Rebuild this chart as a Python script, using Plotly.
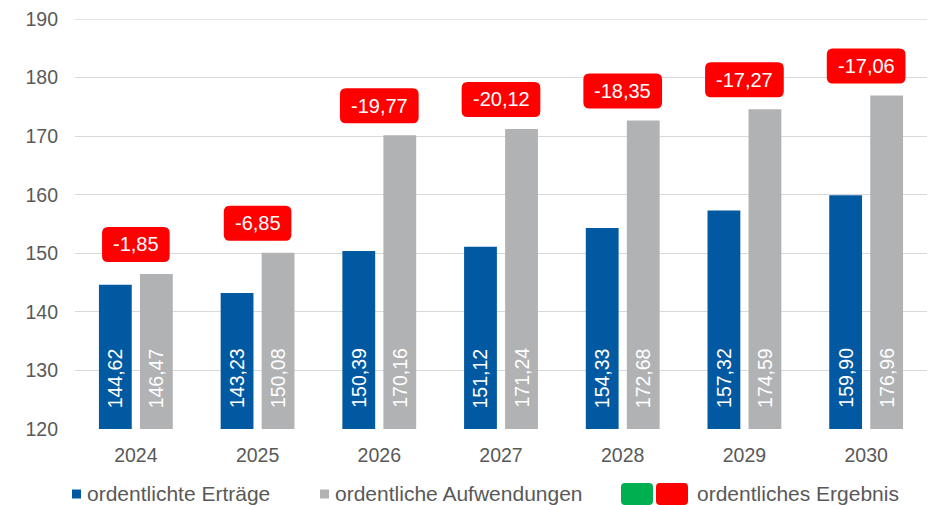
import plotly.graph_objects as go

years = ['2024', '2025', '2026', '2027', '2028', '2029', '2030']
ertraege = [144.62, 143.23, 150.39, 151.12, 154.33, 157.32, 159.90]
aufwendungen = [146.47, 150.08, 170.16, 171.24, 172.68, 174.59, 176.96]
ergebnis = [-1.85, -6.85, -19.77, -20.12, -18.35, -17.27, -17.06]

BLUE = '#0059A1'
GREY = '#B1B2B4'
RED = '#FF0000'
GREEN = '#00B050'
TEXT = '#595959'
FONT = 'Liberation Sans, Arial, sans-serif'

# the page puts the figure 8px in from the top-left corner
OFF = 8
W, H = 935 - OFF, 505 - OFF
M_L, M_R, M_T, M_B = 75 - OFF, 8, 19 - OFF, 76
BARGAP = 0.326
plot_w = W - M_L - M_R
plot_h = H - M_T - M_B
slot = (1 - BARGAP) * plot_w / len(years) / 2
pos = list(range(len(years)))


def de(v):
    return f'{v:.2f}'.replace('.', ',')


# rough Arial advance widths (em) for the box sizing
CHAR_W = {'-': 0.333, ',': 0.278}


def text_width(s, size):
    return sum(CHAR_W.get(c, 0.556) for c in s) * size


def rounded(x0, y0, x1, y1, r):
    return (f'M {x0 + r},{y0} L {x1 - r},{y0} Q {x1},{y0} {x1},{y0 + r} '
            f'L {x1},{y1 - r} Q {x1},{y1} {x1 - r},{y1} L {x0 + r},{y1} '
            f'Q {x0},{y1} {x0},{y1 - r} L {x0},{y0 + r} Q {x0},{y0} {x0 + r},{y0} Z')


fig = go.Figure()
fig.add_trace(go.Bar(x=pos, y=ertraege, name='ordentlichte Erträge',
                     marker=dict(color=BLUE, line=dict(width=0)), showlegend=False))
fig.add_trace(go.Bar(x=pos, y=aufwendungen, name='ordentliche Aufwendungen',
                     marker=dict(color=GREY, line=dict(width=0)), showlegend=False))

shapes = []
annotations = []

# top gridline (plotly drops the one sitting on the plot edge)
shapes.append(dict(type='line', xref='paper', yref='y', x0=0, x1=1, y0=190, y1=190,
                   line=dict(color='#D9D9D9', width=1.3), layer='below'))

# values inside the bars, rotated
for i in pos:
    for vals, sh in ((ertraege, -slot / 2), (aufwendungen, slot / 2)):
        annotations.append(dict(
            x=i, y=120, xref='x', yref='y', text=de(vals[i]), showarrow=False,
            textangle=-90, yanchor='bottom', xanchor='center', yshift=19, xshift=sh,
            font=dict(family=FONT, size=19.5, color='white')))

# red result boxes above the bars
BOX_FS = 20
for i in pos:
    top = max(ertraege[i], aufwendungen[i])
    label = de(ergebnis[i])
    half = text_width(label, BOX_FS) / 2 + 11
    shapes.append(dict(
        type='path', xref='x', yref='y', xsizemode='pixel', ysizemode='pixel',
        xanchor=i, yanchor=top, path=rounded(-half, 12, half, 47, 6),
        fillcolor=GREEN if ergebnis[i] >= 0 else RED, line=dict(width=0), layer='above'))
    annotations.append(dict(
        x=i, y=top, xref='x', yref='y', text=label, showarrow=False,
        yanchor='middle', xanchor='center', yshift=29.5,
        font=dict(family=FONT, size=BOX_FS, color='white')))


# custom legend along the bottom (screen pixels)
def px_x(p):
    return (p - OFF - M_L) / plot_w


def px_y(p):
    return (H - M_B - (p - OFF)) / plot_h


LEG_Y = 494
LEG_FS = 21
for x_sq, color, x_txt, label in ((72, BLUE, 85, 'ordentlichte Erträge'),
                                  (320, GREY, 333, 'ordentliche Aufwendungen')):
    shapes.append(dict(type='rect', xref='paper', yref='paper', xsizemode='pixel',
                       ysizemode='pixel', xanchor=px_x(x_sq), yanchor=px_y(LEG_Y),
                       x0=0, x1=9, y0=-4.5, y1=4.5, fillcolor=color, line=dict(width=0)))
    annotations.append(dict(x=px_x(x_txt), y=px_y(LEG_Y), xref='paper', yref='paper',
                            text=label, showarrow=False, xanchor='left', yanchor='middle',
                            font=dict(family=FONT, size=LEG_FS, color=TEXT)))

for x0, color in ((621, GREEN), (656, RED)):
    shapes.append(dict(type='path', xref='paper', yref='paper', xsizemode='pixel',
                       ysizemode='pixel', xanchor=px_x(x0), yanchor=px_y(LEG_Y),
                       path=rounded(0, -11, 32, 11, 4), fillcolor=color, line=dict(width=0)))
annotations.append(dict(x=px_x(695), y=px_y(LEG_Y), xref='paper', yref='paper',
                        text='ordentliches Ergebnis', showarrow=False, xanchor='left',
                        yanchor='middle', font=dict(family=FONT, size=LEG_FS, color=TEXT)))

fig.update_layout(
    width=W, height=H,
    margin=dict(l=M_L, r=M_R, t=M_T, b=M_B),
    paper_bgcolor='white', plot_bgcolor='white',
    barmode='group', bargap=BARGAP, bargroupgap=0.2,
    showlegend=False,
    font=dict(family=FONT, color=TEXT),
    shapes=shapes, annotations=annotations,
    xaxis=dict(range=[-0.5, len(years) - 0.5], tickvals=pos, ticktext=years,
               showgrid=False, showline=False, zeroline=False, ticks='',
               tickfont=dict(size=19.5, color=TEXT), ticklabelstandoff=12),
    yaxis=dict(range=[120, 190], dtick=10, showgrid=True, gridcolor='#D9D9D9',
               gridwidth=1.3, zeroline=False, showline=False, ticks='',
               tickfont=dict(size=19.5, color=TEXT), ticklabelstandoff=16,
               ticklabeloverflow='allow', automargin=False),
)

fig.write_html('out.html')
